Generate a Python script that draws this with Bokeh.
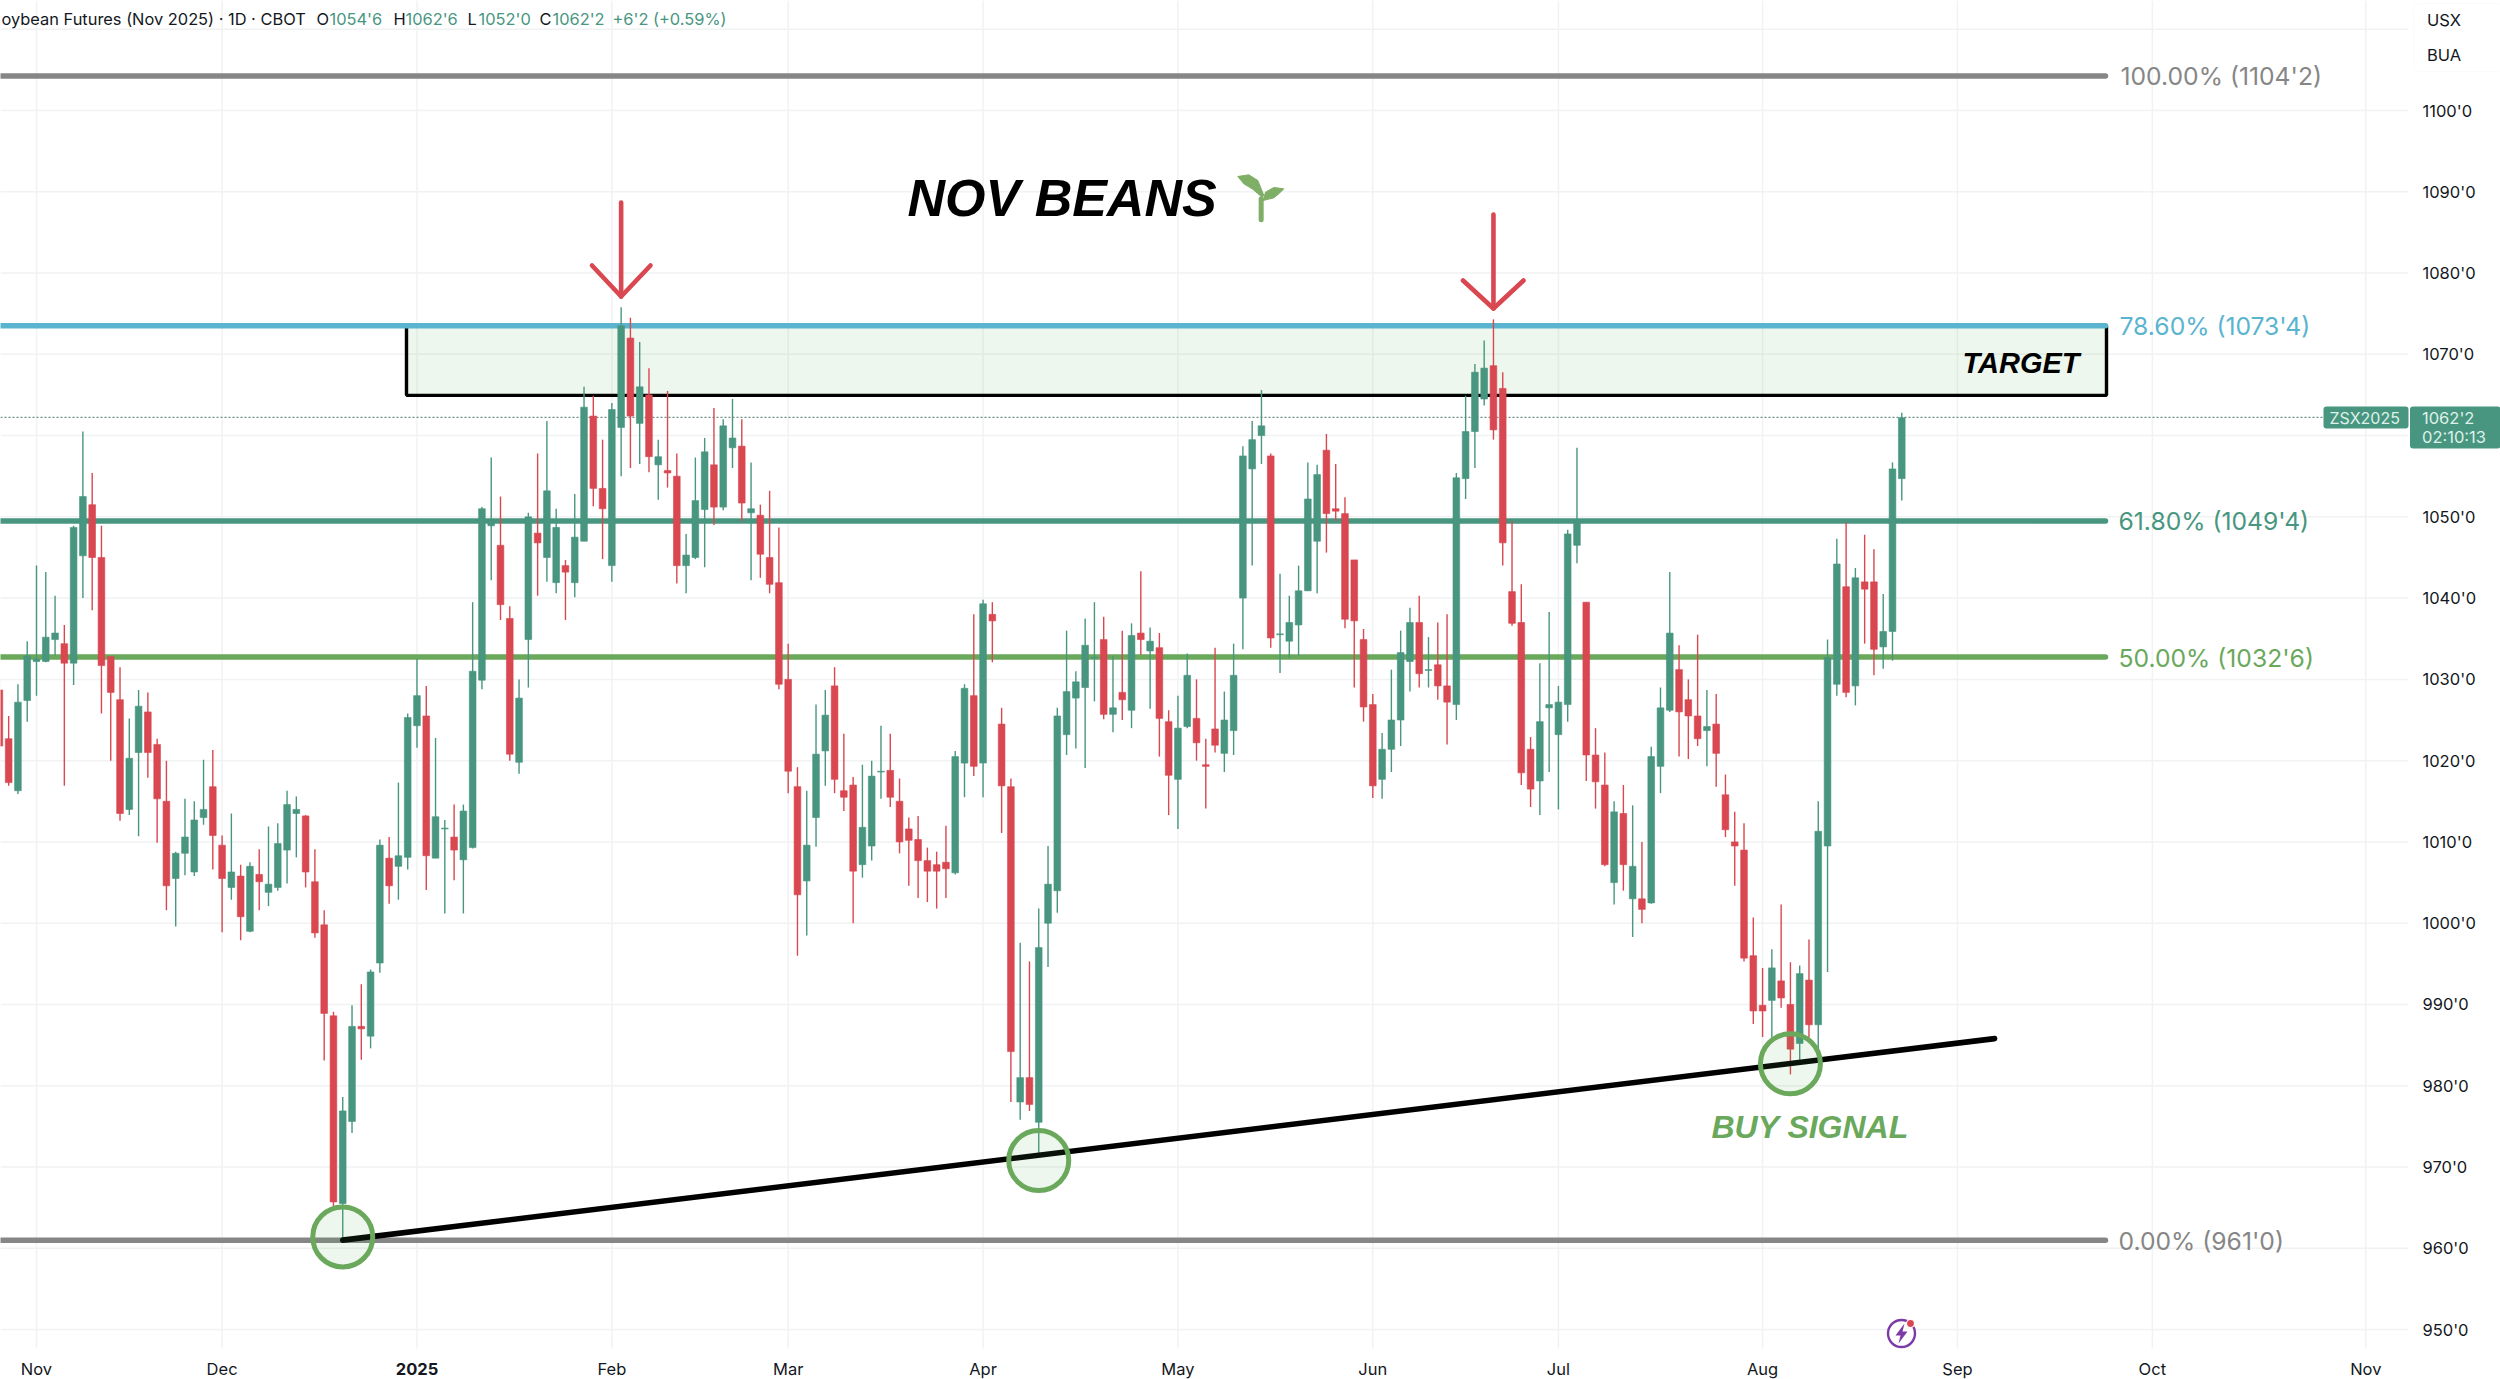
from bokeh.plotting import figure
from bokeh.embed import file_html
from bokeh.resources import INLINE
from bokeh.models import Range1d, FixedTicker, Label, BoxAnnotation, ColumnDataSource

# ---------- data (prices in cents/bu) ----------
first_bar = -4
opens = [
1028.7,1022.7,1016.3,1027.4,1032.2,1032.2,1034.9,1034.4,1032.0,1045.2,
1051.5,1045.0,1032.8,1027.5,1014.0,1021.0,1026.0,1022.0,1015.0,1005.5,
1008.6,1006.3,1013.0,1016.8,1009.6,1004.4,1005.8,999.0,1006.0,1003.8,
1004.4,1009.0,1013.5,1013.2,1005.1,999.8,988.6,965.5,975.6,987.3,
986.1,995.1,1008.0,1007.0,1008.1,1024.3,1025.5,1008.0,1011.6,1010.6,
1007.8,1009.3,1029.9,1048.9,1046.5,1037.5,1019.8,1034.9,1048.0,1045.0,
1041.9,1044.0,1041.9,1047.0,1062.4,1053.5,1044.0,1061.0,1072.0,1061.5,
1065.0,1056.4,1055.7,1055.0,1044.0,1045.0,1050.9,1056.4,1051.2,1058.5,
1058.7,1050.5,1050.2,1045.0,1041.9,1030.0,1016.8,1005.2,1013.0,1021.2,
1029.2,1016.3,1017.0,1007.2,1009.5,1018.6,1018.8,1015.0,1011.6,1010.3,
1007.7,1007.2,1007.5,1006.2,1019.7,1028.0,1019.7,1038.0,1024.5,1016.8,
978.0,981.0,975.5,1000.0,1004.0,1023.2,1027.7,1029.0,1032.6,1034.9,
1025.7,1028.4,1026.2,1035.7,1033.5,1033.9,1024.8,1017.7,1024.2,1025.2,
1019.5,1023.9,1020.9,1023.7,1040.0,1055.9,1060.0,1057.5,1035.5,1034.7,
1036.7,1040.9,1047.0,1058.2,1051.0,1050.4,1044.7,1034.9,1026.9,1017.7,
1021.4,1025.0,1032.2,1037.0,1031.1,1031.8,1029.2,1026.9,1054.7,1060.5,
1064.5,1068.6,1065.8,1040.8,1037.0,1021.4,1017.5,1026.5,1023.2,1026.9,
1046.5,1039.5,1020.7,1017.0,1005.0,1013.5,1003.0,1003.0,1002.5,1019.3,
1026.2,1031.2,1027.5,1025.5,1023.7,1024.5,1015.8,1010.0,1009.0,996.0,
989.9,990.5,992.9,990.0,985.2,993.0,987.5,1009.5,1029.4,1041.4,
1029.2,1042.0,1042.0,1034.0,1035.9,1054.7]
highs = [
1030.0,1025.5,1029.4,1034.7,1044.0,1043.2,1040.3,1036.7,1048.9,1060.5,
1055.4,1048.9,1032.8,1031.5,1025.2,1028.7,1028.4,1022.7,1020.0,1008.8,
1015.3,1015.0,1020.1,1021.3,1010.8,1013.5,1007.2,1007.5,1009.1,1011.9,
1012.3,1016.3,1015.6,1013.3,1009.1,1001.6,989.1,978.6,989.9,992.5,
994.3,1010.3,1010.6,1017.3,1025.8,1032.5,1029.2,1022.8,1012.7,1014.6,
1014.6,1039.5,1051.2,1057.3,1052.5,1039.0,1030.0,1050.5,1057.8,1061.8,
1051.0,1044.7,1052.8,1066.0,1064.9,1059.5,1064.0,1075.8,1074.5,1071.5,
1068.3,1059.5,1065.5,1057.8,1047.9,1057.3,1059.7,1063.4,1062.0,1064.5,
1062.0,1056.7,1051.5,1053.2,1048.7,1034.4,1019.2,1016.3,1026.9,1028.7,
1031.5,1023.3,1018.0,1019.5,1020.0,1024.3,1023.3,1017.8,1013.0,1013.2,
1009.3,1008.8,1012.0,1021.2,1029.4,1038.0,1039.8,1039.5,1026.5,1017.8,
997.6,995.3,1001.8,1009.5,1026.5,1036.0,1031.0,1037.5,1039.5,1037.7,
1032.9,1036.0,1036.9,1043.3,1036.4,1035.7,1026.2,1028.0,1033.2,1030.0,
1022.7,1033.9,1028.5,1034.4,1058.7,1061.8,1065.6,1057.8,1043.0,1040.3,
1044.0,1056.7,1056.4,1060.2,1056.5,1052.4,1044.7,1036.2,1028.2,1023.4,
1031.2,1036.0,1038.8,1040.3,1035.2,1037.0,1038.0,1055.4,1064.9,1068.8,
1071.7,1074.3,1067.8,1049.5,1041.7,1022.9,1032.0,1038.3,1029.2,1048.4,
1058.5,1039.5,1024.0,1021.0,1015.0,1017.0,1014.5,1010.0,1021.7,1029.0,
1043.2,1034.2,1030.0,1035.5,1028.7,1028.2,1018.3,1013.7,1012.3,1000.7,
994.5,996.8,1002.3,995.2,994.8,998.0,1015.0,1034.9,1047.3,1049.3,
1043.7,1047.8,1046.0,1040.5,1056.7,1062.8]
lows = [
1018.0,1016.9,1015.9,1024.8,1028.0,1032.1,1032.9,1016.9,1029.3,1040.0,
1038.5,1025.8,1020.0,1012.6,1013.3,1010.7,1017.9,1009.9,1001.6,999.6,
1005.9,1005.8,1012.1,1006.6,998.9,1002.9,997.9,998.9,1001.6,1002.1,
1004.0,1004.9,1008.1,1004.4,998.2,983.1,965.0,961.0,974.2,983.2,
984.6,993.9,1002.4,1002.9,1006.6,1021.6,1004.1,1008.0,1001.2,1005.3,
1001.2,1009.2,1028.8,1042.2,1037.3,1020.0,1018.4,1029.0,1040.3,1042.0,
1040.6,1037.3,1040.1,1047.0,1051.3,1044.8,1042.0,1055.0,1056.0,1056.5,
1055.5,1052.1,1053.6,1041.8,1040.6,1044.8,1043.8,1049.0,1050.8,1056.0,
1049.5,1042.2,1042.5,1040.6,1028.8,1016.0,996.0,998.5,1009.4,1016.9,
1016.0,1013.8,1000.0,1005.6,1007.7,1015.3,1014.3,1008.6,1004.6,1003.1,
1002.6,1001.8,1003.1,1006.0,1015.5,1018.1,1015.5,1032.1,1011.1,978.0,
975.8,976.9,971.4,994.6,1001.3,1020.7,1021.5,1019.1,1027.3,1025.1,
1023.5,1025.0,1024.0,1033.0,1026.4,1020.5,1013.3,1011.6,1024.0,1020.0,
1014.1,1021.0,1018.6,1020.7,1033.7,1044.0,1056.5,1033.9,1030.8,1032.6,
1032.9,1040.9,1040.6,1045.6,1049.5,1036.3,1029.0,1024.8,1015.4,1015.3,
1018.6,1021.8,1028.5,1029.0,1029.0,1027.5,1022.0,1025.0,1052.2,1056.0,
1063.7,1059.5,1044.0,1036.6,1017.0,1014.3,1013.3,1018.6,1014.0,1024.8,
1044.3,1017.5,1014.1,1007.0,1002.3,1004.0,998.3,1000.0,1002.4,1016.0,
1026.0,1020.5,1020.2,1021.8,1019.3,1016.8,1010.6,1004.6,995.3,987.6,
986.0,985.8,989.6,981.4,983.2,986.0,984.1,994.0,1028.0,1027.8,
1026.8,1034.4,1030.5,1031.3,1032.3,1052.0]
closes = [
1021.8,1017.3,1027.2,1032.9,1032.5,1035.2,1035.7,1032.0,1048.7,1052.5,
1045.0,1031.7,1028.4,1013.5,1020.3,1026.7,1021.0,1015.3,1004.6,1008.6,
1010.6,1012.7,1014.0,1010.8,1005.5,1006.3,1000.8,1007.0,1005.1,1004.8,
1009.8,1014.6,1014.0,1006.3,998.8,988.9,965.7,976.9,987.3,987.0,
994.0,1009.6,1004.6,1008.3,1025.3,1028.0,1008.3,1013.1,1011.7,1009.0,
1013.8,1031.0,1051.0,1049.6,1039.2,1020.8,1027.7,1050.0,1046.8,1053.2,
1048.7,1043.2,1047.5,1063.5,1053.5,1051.0,1063.2,1073.5,1062.4,1066.0,
1057.4,1057.4,1055.4,1044.0,1045.3,1052.0,1058.0,1051.2,1061.2,1059.7,
1051.7,1051.0,1045.4,1041.7,1029.4,1018.7,1003.5,1009.6,1020.8,1025.6,
1017.7,1015.5,1006.4,1011.8,1018.1,1018.7,1015.5,1010.0,1010.2,1007.7,
1006.4,1006.4,1006.7,1020.5,1028.9,1019.3,1039.3,1037.2,1016.9,984.2,
981.0,977.7,997.0,1004.8,1025.5,1028.5,1029.7,1034.2,1032.7,1025.7,
1026.5,1027.5,1035.4,1034.9,1034.7,1025.2,1018.2,1024.0,1030.5,1022.2,
1019.3,1021.9,1025.0,1030.5,1057.5,1059.5,1061.2,1035.1,1035.6,1037.0,
1040.9,1052.2,1055.2,1050.4,1050.7,1037.4,1037.2,1026.6,1016.9,1021.4,
1025.0,1033.3,1037.0,1030.7,1031.2,1029.2,1027.2,1054.8,1060.5,1067.8,
1068.3,1060.7,1046.8,1036.9,1018.5,1016.5,1024.8,1026.9,1027.2,1047.9,
1049.5,1020.7,1017.4,1007.2,1013.7,1007.2,1007.0,1001.7,1020.5,1026.5,
1035.7,1026.0,1025.5,1022.7,1024.2,1020.9,1011.5,1009.5,995.7,989.2,
989.2,994.5,990.8,984.5,993.8,987.5,1011.3,1032.7,1044.2,1028.4,
1042.5,1041.1,1033.7,1035.9,1055.9,1062.2]

y_ticks = [950, 960, 970, 980, 990, 1000, 1010, 1020, 1030, 1040, 1050, 1060, 1070, 1080, 1090, 1100, 1110]
month_bars = [0, 20, 41, 62, 81, 102, 123, 144, 164, 186, 207, 228, 251]
month_names = ["Nov", "Dec", "2025", "Feb", "Mar", "Apr", "May", "Jun", "Jul", "Aug", "Sep", "Oct", "Nov"]

fib_levels = [1104.25, 1073.5, 1049.5, 1032.75, 961.0]
fib_labels = ["100.00% (1104'2)", "78.60% (1073'4)", "61.80% (1049'4)", "50.00% (1032'6)", "0.00% (961'0)"]
last_price = 1062.25
trend_bars = [33, 211]
trend_prices = [961.0, 985.8]
signal_bars = [33, 108, 189]
signal_prices = [961.4, 970.8, 982.7]
arrow_bars = [63, 157]
target_low, target_high = 1064.95, 1073.5

# ---------- layout / style ----------
UP, DOWN = "#48967f", "#d94750"
GRID = "#f1f2f3"
TXT = "#131722"
GREEN = "#6aa85c"
BLUE = "#5ab4d0"
GREY = "#868686"
FIB_COL = [GREY, BLUE, UP, GREEN, GREY]

def xpx(px):
    return (px - 36) / 9.28

def ypx(py):
    return 1100 - (py - 110) / 8.127

p = figure(width=2500, height=1379, output_backend="svg", toolbar_location=None,
           x_range=Range1d(xpx(0), xpx(2500)), y_range=Range1d(ypx(1379), ypx(0)),
           x_axis_location="below", y_axis_location="right",
           min_border_left=0, min_border_top=0, min_border_right=0, min_border_bottom=0,
           outline_line_color=None, background_fill_color="white", border_fill_color="white")

for ax in (p.xaxis[0], p.yaxis[0]):
    ax.axis_line_color = None
    ax.major_tick_line_color = None
    ax.minor_tick_line_color = None
    ax.major_tick_out = 0
    ax.major_tick_in = 0
    ax.minor_tick_out = 0
    ax.minor_tick_in = 0
    ax.major_label_text_font = "Inter"
    ax.major_label_text_font_size = "16.5px"
    ax.major_label_text_color = TXT

p.yaxis[0].ticker = FixedTicker(ticks=y_ticks)
p.yaxis[0].major_label_overrides = {t: ("" if t == 1110 else f"{t}'0") for t in y_ticks}
p.yaxis[0].major_label_standoff = 14
p.yaxis[0].fixed_location = xpx(2408)
p.xaxis[0].ticker = FixedTicker(ticks=month_bars)
p.xaxis[0].major_label_overrides = {b: ("" if n == "2025" else n) for b, n in zip(month_bars, month_names)}
p.xaxis[0].major_label_standoff = 10
p.xaxis[0].fixed_location = ypx(1348)

p.grid.visible = False
p.segment(x0=[xpx(0)] * len(y_ticks), x1=[xpx(2408)] * len(y_ticks), y0=y_ticks, y1=y_ticks,
          line_color=GRID, line_width=1.5)
p.segment(x0=month_bars, x1=month_bars, y0=[ypx(0)] * len(month_bars), y1=[ypx(1348)] * len(month_bars),
          line_color=GRID, line_width=1.5)

# target zone
p.quad(left=[xpx(406)], right=[xpx(2106)], top=[target_high], bottom=[target_low],
       fill_color="#4caf50", fill_alpha=0.1, line_color="black", line_width=3.4)

# last price line
p.line([xpx(0), xpx(2323)], [last_price, last_price], line_color="#6f8f86", line_width=1.2, line_dash="2 2")

# fibonacci levels
for lev, col in zip(fib_levels, FIB_COL):
    p.line([xpx(0), xpx(2105)], [lev, lev], line_color=col, line_width=5.5, line_cap="round")

# candles
bars = list(range(first_bar, first_bar + len(opens)))
cols = [UP if c >= o else DOWN for o, c in zip(opens, closes)]
src = ColumnDataSource(dict(x=bars, o=opens, h=highs, l=lows, c=closes,
                            top=[max(a, b) for a, b in zip(opens, closes)],
                            bot=[min(a, b) for a, b in zip(opens, closes)], col=cols))
p.segment(x0="x", x1="x", y0="l", y1="h", line_color="col", line_width=1.4, source=src)
p.vbar(x="x", width=0.72, top="top", bottom="bot", fill_color="col", line_color="col", line_width=0.6, source=src)

# trend line
p.line(trend_bars, trend_prices, line_color="black", line_width=5.6, line_cap="round")

# buy signal circles
p.scatter(signal_bars, signal_prices, marker="circle", size=60, fill_color="#4caf50", fill_alpha=0.1,
          line_color=GREEN, line_width=5)

# arrows
arrow_tips = [(296, 202, 591.5, 650, 265), (308, 214, 1462.5, 1523, 280)]
for b, (tip, top_, xl, xr, wing) in zip(arrow_bars, arrow_tips):
    p.line([b, b], [ypx(top_), ypx(tip)], line_color=DOWN, line_width=4.6, line_cap="round")
    p.line([xpx(xl), b, xpx(xr)], [ypx(wing), ypx(tip), ypx(wing)], line_color=DOWN, line_width=4.6,
           line_cap="round", line_join="round")

def lab(x, y, text, color=TXT, size=16, font="Inter", style="normal", align="left"):
    p.add_layout(Label(x=xpx(x), y=ypx(y), text=text, text_color=color, text_font=font,
                       text_font_size=f"{size}px", text_font_style=style, text_align=align,
                       text_baseline="middle"))

# texts on the chart
lab(907, 197, "NOV BEANS", "black", 52, "Liberation Sans", "bold italic")
lab(1962, 362, "TARGET", "black", 29, "Liberation Sans", "bold italic")
lab(1711, 1126, "BUY SIGNAL", GREEN, 32, "Liberation Sans", "bold italic")

fib_y = [75, 325, 520, 657, 1240]
fib_x = [2120, 2119, 2118, 2118, 2118]
for xx, yy, t, c in zip(fib_x, fib_y, fib_labels, FIB_COL):
    lab(xx, yy, t, c, 24.7)

# seedling
def zx(v): return xpx(850 + v / 3)
def zy(v): return ypx(140 + v / 3)
leafs_x = [[zx(a) for a in (1162, 1195, 1222, 1240, 1235, 1205, 1180)],
           [zx(a) for a in (1300, 1270, 1245, 1238, 1270, 1285)]]
leafs_y = [[zy(a) for a in (108, 103, 120, 165, 170, 145, 130)],
           [zy(a) for a in (145, 141, 155, 180, 172, 160)]]
p.patches(leafs_x, leafs_y, fill_color="#7fae66", line_color="#7fae66", line_width=1)
p.line([zx(1232), zx(1232)], [zy(238), zy(175)], line_color="#7fae66", line_width=5, line_cap="round")

# header
head = [(1, "oybean Futures (Nov 2025) · 1D · CBOT", TXT), (316, "O", TXT), (329, "1054'6", UP),
        (393, "H", TXT), (405, "1062'6", UP), (467, "L", TXT), (478, "1052'0", UP),
        (539, "C", TXT), (552, "1062'2", UP), (612, "+6'2 (+0.59%)", UP)]
for xx, t, c in head:
    lab(xx, 18.5, t, c, 16.4)

# bold year on the time axis
lab(416.5, 1368.5, "2025", TXT, 16.5, "Inter", "bold", "center")

# right side tags
p.add_layout(BoxAnnotation(left=xpx(2323), right=xpx(2408), top=ypx(406), bottom=ypx(428),
                           fill_color=UP, fill_alpha=1, line_alpha=0, border_radius=3))
p.add_layout(BoxAnnotation(left=xpx(2409.5), right=xpx(2500), top=ypx(406), bottom=ypx(448),
                           fill_color=UP, fill_alpha=1, line_alpha=0, border_radius=3))
lab(2329, 417, "ZSX2025", "#dff1ea", 16)
lab(2421.5, 417, "1062'2", "#dff1ea", 16.5)
lab(2421.5, 436, "02:10:13", "#dff1ea", 16.5)

p.add_layout(BoxAnnotation(left=xpx(2413), right=xpx(2502), top=ypx(3), bottom=ypx(71),
                           fill_color="white", fill_alpha=1, line_color="#f0f0f0", line_width=1, border_radius=6))
lab(2426.5, 19, "USX", TXT, 16.5)
lab(2426.5, 54, "BUA", TXT, 16.5)

# news icon
p.scatter([xpx(1901)], [ypx(1333)], marker="circle", size=27, fill_color="white", line_color="#7b3aa6", line_width=2.4)
p.patch([xpx(a) for a in (1904, 1895, 1900, 1898, 1907, 1902)],
        [ypx(a) for a in (1323, 1335, 1335, 1343, 1331, 1331)], fill_color="#7b3aa6", line_color=None)
p.scatter([xpx(1910)], [ypx(1323)], marker="circle", size=8, fill_color=DOWN, line_color="white", line_width=1.2)

open("out.html", "w").write(file_html(p, INLINE))
